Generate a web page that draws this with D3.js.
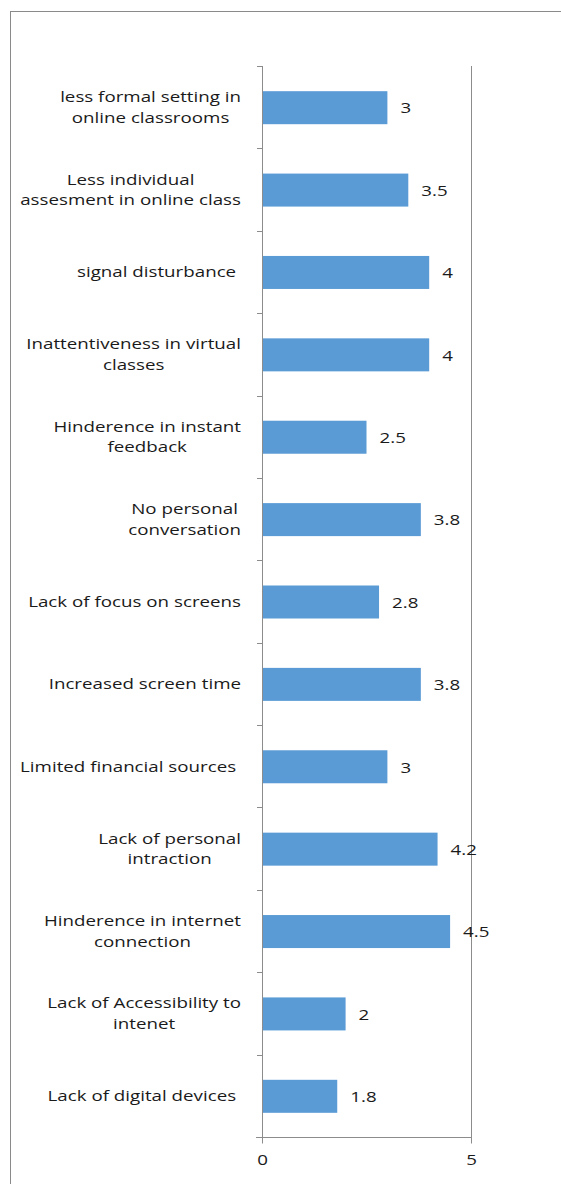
<!DOCTYPE html>
<html>
<head>
<meta charset="utf-8">
<script src="https://cdn.jsdelivr.net/npm/d3@7"></script>
<style>
  html, body { margin: 0; padding: 0; background: #fff; }
  svg { display: block; }
  text { font-family: "Open Sans", "Liberation Sans", sans-serif; fill: #1a1a1a; }
</style>
</head>
<body>
<svg id="chart" width="561" height="1184"></svg>
<script>
// Problems reported with online classes (top to bottom as drawn)
const categories = [
  "less formal setting in\nonline classrooms",
  "Less individual\nassesment in online class",
  "signal disturbance ",
  "Inattentiveness in virtual\nclasses",
  "Hinderence in instant\nfeedback",
  "No personal\nconversation",
  "Lack of focus on screens",
  "Increased screen time",
  "Limited financial sources ",
  "Lack of personal\nintraction",
  "Hinderence in internet\nconnection",
  "Lack of Accessibility to\nintenet",
  "Lack of digital devices "
];
const values = [3, 3.5, 4, 4, 2.5, 3.8, 2.8, 3.8, 3, 4.2, 4.5, 2, 1.8];
const xTicks = [0, 5];

const svg = d3.select("#chart");
const axisColor = "#8c8c8c";
const fontSize = 15;
const stretch = 1.25;   // wide-set lettering

// outer chart frame
svg.append("rect")
  .attr("x", 10.5).attr("y", 11.5)
  .attr("width", 600).attr("height", 1300)
  .attr("fill", "none").attr("stroke", "#8a8a8a").attr("stroke-width", 1);

const plot = { left: 262, right: 471, top: 66, bottom: 1137 };

const x = d3.scaleLinear().domain([0, 5]).range([plot.left, plot.right]);
const yb = d3.scaleBand().domain(categories).range([plot.top, plot.bottom]);
const barH = 33;

// stretched text helper
function sText(g, tx, ty, str, anchor) {
  return g.append("text")
    .attr("transform", `translate(${tx},${ty}) scale(${stretch},1)`)
    .attr("font-size", fontSize)
    .attr("text-anchor", anchor || "start")
    .attr("dy", "0.35em")
    .style("white-space", "pre")
    .text(str);
}

// vertical gridline at the max tick
svg.append("g").selectAll("line").data(xTicks.filter(d => d > 0)).join("line")
  .attr("x1", d => Math.round(x(d)) + 0.5).attr("x2", d => Math.round(x(d)) + 0.5)
  .attr("y1", plot.top).attr("y2", plot.bottom)
  .attr("stroke", axisColor).attr("stroke-width", 1);

// bars
svg.append("g").selectAll("rect").data(values).join("rect")
  .attr("x", x(0))
  .attr("y", (d, i) => yb(categories[i]) + (yb.bandwidth() - barH) / 2 + 0.5)
  .attr("width", d => x(d) - x(0))
  .attr("height", barH)
  .attr("fill", "#5b9bd5");

// value labels
const valG = svg.append("g");
values.forEach((v, i) => {
  sText(valG, x(v) + 13, yb(categories[i]) + yb.bandwidth() / 2 + 1, String(v)).attr("fill", "#262626");
});

// category axis: line with ticks at band boundaries
const yAxisG = svg.append("g");
yAxisG.append("line")
  .attr("x1", plot.left + 0.5).attr("x2", plot.left + 0.5)
  .attr("y1", plot.top).attr("y2", plot.bottom)
  .attr("stroke", axisColor);
yAxisG.selectAll("line.tick").data(categories.map(c => yb(c))).join("line")
  .attr("class", "tick")
  .attr("x1", plot.left - 5).attr("x2", plot.left)
  .attr("y1", d => Math.round(d) + 0.5).attr("y2", d => Math.round(d) + 0.5)
  .attr("stroke", axisColor);

// category labels: block right-aligned, lines centred within block
const labelRight = 241;
const lineH = 20.5;
const labelG = svg.append("g");
categories.forEach(c => {
  const lines = c.split("\n");
  const g = labelG.append("g");
  const cy = yb(c) + yb.bandwidth() / 2;
  const texts = lines.map((ln, k) =>
    sText(g, 0, cy + (k - (lines.length - 1) / 2) * lineH, ln, "middle"));
  const w = d3.max(texts, t => t.node().getComputedTextLength()) * stretch;
  texts.forEach((t, k) => t.attr("transform",
    `translate(${labelRight - w / 2},${cy + (k - (lines.length - 1) / 2) * lineH}) scale(${stretch},1)`));
});

// value axis at bottom
const xAxis = d3.axisBottom(x).tickValues(xTicks).tickSize(6).tickFormat(d3.format("d"));
const xg = svg.append("g").attr("transform", `translate(0,${plot.bottom + 0.5})`).call(xAxis);
xg.select(".domain").remove();
xg.append("line").attr("x1", plot.left - 6).attr("x2", plot.right + 1).attr("stroke", axisColor);
xg.selectAll(".tick line").attr("stroke", axisColor);
xg.selectAll(".tick text").remove();
xg.selectAll(".tick").each(function (d) {
  sText(d3.select(this), 0, 22, d3.format("d")(d), "middle");
});
</script>
</body>
</html>
